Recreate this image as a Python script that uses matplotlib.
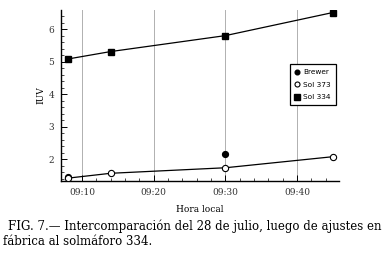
import matplotlib
matplotlib.use("Agg")
import matplotlib.pyplot as plt
from matplotlib.ticker import MultipleLocator, FixedLocator

# Data (times as hh:mm)
brewer_t = ["09:08", "09:30"]
brewer_v = [1.45, 2.16]
sol373_t = ["09:08", "09:14", "09:30", "09:45"]
sol373_v = [1.42, 1.57, 1.74, 2.08]
sol334_t = ["09:08", "09:14", "09:30", "09:45"]
sol334_v = [5.08, 5.31, 5.80, 6.51]
xtick_labels = ["09:10", "09:20", "09:30", "09:40"]

def to_min(s):
    h, m = s.split(":")
    return int(h) * 60 + int(m)

fig = plt.figure(figsize=(3.87, 2.54), dpi=100)
ax = fig.add_axes([0.158, 0.287, 0.718, 0.674])

serif = "DejaVu Serif"
t334 = [to_min(s) for s in sol334_t]
t373 = [to_min(s) for s in sol373_t]
tb = [to_min(s) for s in brewer_t]

ax.plot(t334, sol334_v, color="black", lw=0.9, zorder=2)
ax.plot(t373, sol373_v, color="black", lw=0.9, zorder=2)
ax.plot(tb, brewer_v, ls="none", marker="o", ms=4.2, color="black", label="Brewer", zorder=3)
ax.plot(t373, sol373_v, ls="none", marker="o", ms=4.5, mfc="white", mec="black", mew=0.8, label="Sol 373", zorder=3)
ax.plot(t334, sol334_v, ls="none", marker="s", ms=5, color="black", label="Sol 334", zorder=3)

xt = [to_min(s) for s in xtick_labels]
ax.set_xlim(to_min("09:07") + 0.1, to_min("09:45") + 0.85)
ax.set_ylim(1.33, 6.59)
ax.xaxis.set_major_locator(FixedLocator(xt))
ax.set_xticklabels(xtick_labels)
ax.xaxis.set_minor_locator(MultipleLocator(2))
ax.yaxis.set_major_locator(FixedLocator([2, 3, 4, 5, 6]))
ax.yaxis.set_minor_locator(MultipleLocator(0.2))
for xv in xt:
    ax.axvline(xv, color="#b0b0b0", lw=0.7, zorder=1)

ax.tick_params(which="major", direction="in", length=4, width=0.7, labelsize=6.5, pad=5)
ax.tick_params(which="minor", direction="in", length=2, width=0.5)
for lab in ax.get_xticklabels() + ax.get_yticklabels():
    lab.set_family(serif)
    lab.set_color("#333333")
ax.spines["top"].set_visible(False)
ax.spines["right"].set_visible(False)
for s in ["left", "bottom"]:
    ax.spines[s].set_linewidth(1.0)

ax.set_xlabel("Hora local", family=serif, fontsize=6.5, labelpad=6)
ax.set_ylabel("IUV", family=serif, fontsize=6.5, labelpad=2)

leg = ax.legend(loc="upper left", bbox_to_anchor=(0.81, 0.705), fontsize=5.3,
                frameon=True, fancybox=False, edgecolor="black", framealpha=1,
                handlelength=0.6, handletextpad=0.5, borderpad=0.7, labelspacing=0.85,
                prop={"family": "DejaVu Sans", "size": 5.3}, markerscale=0.8)
leg.get_frame().set_linewidth(0.9)

fig.text(0.02, 0.095, "FIG. 7.— Intercomparación del 28 de julio, luego de ajustes en",
         family=serif, fontsize=8.5, ha="left", va="baseline")
fig.text(0.008, 0.036, "fábrica al solmáforo 334.",
         family=serif, fontsize=8.5, ha="left", va="baseline")

fig.savefig("out.png", dpi=100)
